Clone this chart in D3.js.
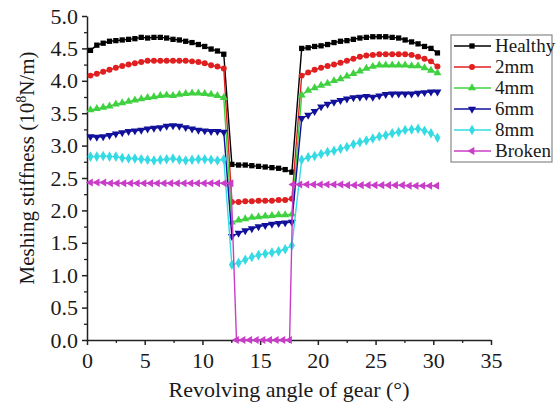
<!DOCTYPE html>
<html>
<head>
<meta charset="utf-8">
<script src="https://cdn.jsdelivr.net/npm/d3@7"></script>
<style>
  body { margin: 0; background: #fff; }
  text { font-family: 'Liberation Serif', 'Times New Roman', serif; fill: #1a1a1a; }
</style>
</head>
<body>
<div id="chart"></div>
<script>
// angle samples (deg) for the five tooth-crack cases
const xLeft = [0.3, 0.85, 1.4, 1.95, 2.5, 3.05, 3.6, 4.15, 4.7, 5.25, 5.8, 6.35, 6.9, 7.45, 8.0, 8.55, 9.1, 9.65, 10.2, 10.75, 11.3, 11.85]
const xMid = [12.55, 13.13, 13.71, 14.28, 14.86, 15.44, 16.02, 16.6, 17.17, 17.75]
const xRight = [18.6, 19.16, 19.72, 20.28, 20.84, 21.4, 21.96, 22.52, 23.08, 23.64, 24.2, 24.76, 25.32, 25.88, 26.44, 27.0, 27.56, 28.12, 28.68, 29.24, 29.8, 30.36]

// angle samples for the broken tooth
const xBrokenLeft = [0.3, 0.88, 1.46, 2.04, 2.62, 3.2, 3.78, 4.36, 4.94, 5.52, 6.1, 6.68, 7.26, 7.84, 8.42, 9.0, 9.58, 10.16, 10.74, 11.32, 11.9, 12.48]
const xBrokenMid = [12.95, 13.52, 14.1, 14.67, 15.25, 15.82, 16.4, 16.97, 17.55]
const xBrokenRight = [17.85, 18.44, 19.04, 19.63, 20.22, 20.81, 21.4, 22.0, 22.59, 23.18, 23.77, 24.37, 24.96, 25.55, 26.14, 26.73, 27.33, 27.92, 28.51, 29.1, 29.7, 30.3]

// stiffness values (10^8 N/m)
const healthy = [
  4.47, 4.55, 4.58, 4.61, 4.62, 4.63, 4.64, 4.65, 4.67, 4.66, 4.67, 4.67, 4.66, 4.64, 4.63, 4.61, 4.59, 4.56, 4.53, 4.49, 4.46, 4.41,
  2.71, 2.70, 2.70, 2.69, 2.68, 2.67, 2.66, 2.65, 2.63, 2.59,
  4.50, 4.51, 4.53, 4.54, 4.56, 4.59, 4.61, 4.62, 4.64, 4.66, 4.67, 4.68, 4.68, 4.68, 4.67, 4.66, 4.63, 4.60, 4.57, 4.53, 4.50, 4.43
]
const crack2 = [
  4.08, 4.11, 4.14, 4.17, 4.20, 4.23, 4.25, 4.27, 4.29, 4.31, 4.31, 4.31, 4.31, 4.31, 4.31, 4.31, 4.30, 4.29, 4.27, 4.24, 4.22, 4.19,
  2.13, 2.13, 2.14, 2.14, 2.15, 2.15, 2.15, 2.16, 2.16, 2.18,
  4.08, 4.13, 4.17, 4.20, 4.23, 4.25, 4.28, 4.31, 4.34, 4.37, 4.39, 4.40, 4.41, 4.41, 4.41, 4.41, 4.41, 4.40, 4.37, 4.34, 4.30, 4.22
]
const crack4 = [
  3.55, 3.57, 3.59, 3.61, 3.64, 3.66, 3.68, 3.70, 3.72, 3.74, 3.75, 3.77, 3.78, 3.77, 3.79, 3.80, 3.81, 3.81, 3.80, 3.79, 3.77, 3.74,
  1.82, 1.85, 1.87, 1.89, 1.90, 1.91, 1.92, 1.93, 1.93, 1.94,
  3.78, 3.85, 3.89, 3.93, 3.96, 4.00, 4.03, 4.07, 4.11, 4.15, 4.19, 4.22, 4.24, 4.24, 4.24, 4.24, 4.24, 4.23, 4.23, 4.20, 4.16, 4.12
]
const crack6 = [
  3.14, 3.13, 3.14, 3.16, 3.18, 3.20, 3.22, 3.23, 3.24, 3.26, 3.27, 3.28, 3.30, 3.31, 3.30, 3.28, 3.26, 3.24, 3.23, 3.22, 3.22, 3.21,
  1.60, 1.65, 1.69, 1.72, 1.75, 1.77, 1.79, 1.80, 1.81, 1.82,
  3.42, 3.47, 3.53, 3.60, 3.64, 3.67, 3.70, 3.72, 3.74, 3.75, 3.76, 3.75, 3.77, 3.79, 3.80, 3.80, 3.80, 3.80, 3.81, 3.82, 3.83, 3.83
]
const crack8 = [
  2.83, 2.83, 2.84, 2.83, 2.83, 2.81, 2.80, 2.80, 2.79, 2.78, 2.77, 2.78, 2.79, 2.80, 2.78, 2.77, 2.78, 2.79, 2.79, 2.78, 2.77, 2.79,
  1.16, 1.19, 1.24, 1.28, 1.31, 1.33, 1.35, 1.37, 1.40, 1.46,
  2.78, 2.82, 2.84, 2.87, 2.90, 2.92, 2.95, 2.98, 3.02, 3.05, 3.08, 3.11, 3.14, 3.16, 3.19, 3.21, 3.24, 3.25, 3.26, 3.23, 3.19, 3.12
]
const broken = [
  2.43, 2.43, 2.43, 2.42, 2.42, 2.42, 2.42, 2.42, 2.42, 2.42, 2.42, 2.42, 2.42, 2.42, 2.42, 2.42, 2.42, 2.42, 2.42, 2.42, 2.42, 2.42,
  0, 0, 0, 0, 0, 0, 0, 0, 0,
  2.40, 2.40, 2.40, 2.40, 2.40, 2.40, 2.40, 2.40, 2.39, 2.39, 2.39, 2.39, 2.39, 2.39, 2.39, 2.39, 2.39, 2.38, 2.38, 2.38, 2.38, 2.38
]

const seriesNames = ['Healthy', '2mm', '4mm', '6mm', '8mm', 'Broken']
const xTicks = [0, 5, 10, 15, 20, 25, 30, 35]
const yTicks = [0, 0.5, 1, 1.5, 2, 2.5, 3, 3.5, 4, 4.5, 5]

const xCrack = xLeft.concat(xMid, xRight)
const xBroken = xBrokenLeft.concat(xBrokenMid, xBrokenRight)
const series = [
  { name: seriesNames[0], xs: xCrack, ys: healthy, color: '#000000', shape: d3.symbolSquare, rot: 0, size: 28 },
  { name: seriesNames[1], xs: xCrack, ys: crack2, color: '#e02020', shape: d3.symbolCircle, rot: 0, size: 28 },
  { name: seriesNames[2], xs: xCrack, ys: crack4, color: '#3fd13f', shape: d3.symbolTriangle, rot: 0, size: 28 },
  { name: seriesNames[3], xs: xCrack, ys: crack6, color: '#10109a', shape: d3.symbolTriangle, rot: 180, size: 28 },
  { name: seriesNames[4], xs: xCrack, ys: crack8, color: '#35dbe3', shape: d3.symbolDiamond, rot: 0, size: 32 },
  { name: seriesNames[5], xs: xBroken, ys: broken, color: '#c93ec9', shape: d3.symbolTriangle, rot: -90, size: 28 }
]

const width = 559
const height = 408
const margin = { left: 87, right: 68, top: 16, bottom: 68 }

const svg = d3.select('#chart')
  .append('svg')
  .attr('width', width)
  .attr('height', height)

const x = d3.scaleLinear().domain([0, 35]).range([margin.left, width - margin.right])
const y = d3.scaleLinear().domain([0, 5]).range([height - margin.bottom, margin.top])

// minor ticks first, then the major axes on top
svg.append('g')
  .attr('transform', `translate(0,${y(0)})`)
  .call(d3.axisBottom(x).tickValues(d3.range(2.5, 35, 5)).tickSize(3).tickFormat(''))
  .call(g => g.select('.domain').remove())
  .selectAll('line').attr('stroke', '#222').attr('stroke-width', 1.3)

svg.append('g')
  .attr('transform', `translate(${x(0)},0)`)
  .call(d3.axisLeft(y).tickValues(d3.range(0.25, 5, 0.5)).tickSize(3).tickFormat(''))
  .call(g => g.select('.domain').remove())
  .selectAll('line').attr('stroke', '#222').attr('stroke-width', 1.3)

const xAxis = svg.append('g')
  .attr('transform', `translate(0,${y(0)})`)
  .call(d3.axisBottom(x).tickValues(xTicks).tickSize(5).tickSizeOuter(0).tickPadding(7).tickFormat(d3.format('d')))
xAxis.select('.domain').attr('stroke', '#222').attr('stroke-width', 1.5)
xAxis.selectAll('line').attr('stroke', '#222').attr('stroke-width', 1.5)
xAxis.selectAll('text').attr('font-size', 22).attr('font-family', 'Liberation Serif').attr('fill', '#1a1a1a')

const yAxis = svg.append('g')
  .attr('transform', `translate(${x(0)},0)`)
  .call(d3.axisLeft(y).tickValues(yTicks).tickSize(5).tickSizeOuter(0).tickPadding(4).tickFormat(d3.format('.1f')))
yAxis.select('.domain').attr('stroke', '#222').attr('stroke-width', 1.5)
yAxis.selectAll('line').attr('stroke', '#222').attr('stroke-width', 1.5)
yAxis.selectAll('text').attr('font-size', 22).attr('font-family', 'Liberation Serif').attr('fill', '#1a1a1a')

// axis titles
svg.append('text')
  .attr('x', (x(0) + x(35)) / 2)
  .attr('y', 397)
  .attr('text-anchor', 'middle')
  .attr('font-size', 22)
  .text('Revolving angle of gear (°)')

const yTitle = svg.append('text')
  .attr('transform', `translate(34,${(y(0) + y(5)) / 2 - 10}) rotate(-90)`)
  .attr('text-anchor', 'middle')
  .attr('font-size', 21)
yTitle.append('tspan').text('Meshing stiffness (10')
yTitle.append('tspan').attr('font-size', 14).attr('dy', -8).text('8')
yTitle.append('tspan').attr('dy', 8).text('N/m)')

const line = d3.line()
  .x(d => x(d[0]))
  .y(d => y(d[1]))

series.forEach(s => {
  const pts = s.xs.map((v, i) => [v, s.ys[i]])
  const g = svg.append('g')
  g.append('path')
    .attr('d', line(pts))
    .attr('fill', 'none')
    .attr('stroke', s.color)
    .attr('stroke-width', 1.4)
  g.selectAll('path.mk')
    .data(pts)
    .enter()
    .append('path')
    .attr('class', 'mk')
    .attr('d', d3.symbol().type(s.shape).size(s.size))
    .attr('transform', d => `translate(${x(d[0])},${y(d[1])}) rotate(${s.rot})`)
    .attr('fill', s.color)
})

// legend
const legend = svg.append('g').attr('transform', 'translate(451,35)')
legend.append('rect')
  .attr('width', 101)
  .attr('height', 127)
  .attr('fill', '#fff')
  .attr('stroke', '#888')
  .attr('stroke-width', 1.2)

series.forEach((s, i) => {
  const row = legend.append('g').attr('transform', `translate(0,${11 + i * 21})`)
  row.append('line')
    .attr('x1', 3).attr('x2', 40)
    .attr('stroke', s.color)
    .attr('stroke-width', 1.5)
  row.append('path')
    .attr('d', d3.symbol().type(s.shape).size(s.size))
    .attr('transform', `translate(21,0) rotate(${s.rot})`)
    .attr('fill', s.color)
  row.append('text')
    .attr('x', 44)
    .attr('y', 6)
    .attr('font-size', 19)
    .text(s.name)
})
</script>
</body>
</html>
